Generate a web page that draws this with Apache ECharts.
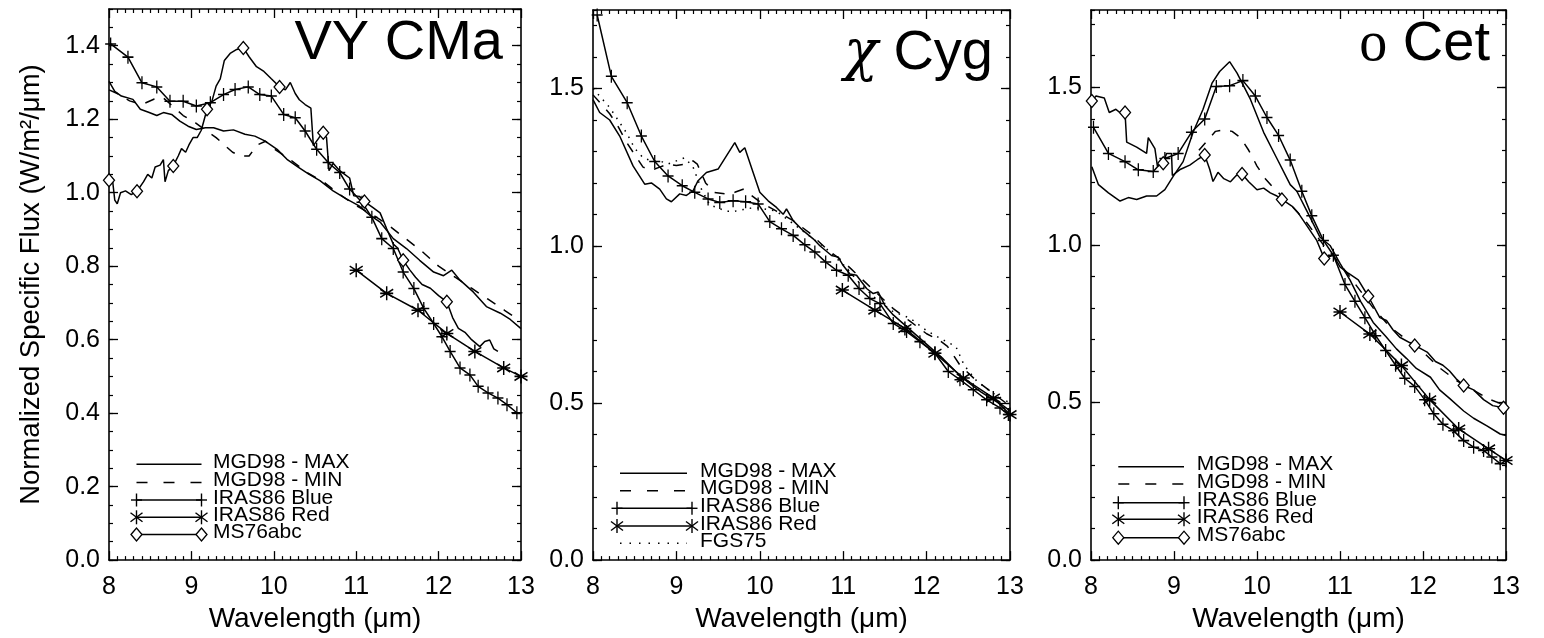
<!DOCTYPE html>
<html>
<head>
<meta charset="utf-8">
<script src="https://cdn.jsdelivr.net/npm/echarts@6/dist/echarts.min.js"></script>
<style>
  html, body { margin: 0; padding: 0; background: #fff; }
  #chart { width: 1544px; height: 638px; }
</style>
</head>
<body>
<div id="chart"></div>
<script>
// ---- data: [wavelength um, normalized flux] ----
// third value 1 = draw a diamond at this point (MS76abc)

// VY CMa
const vyMax = [[8.0,1.303],[8.07,1.276],[8.15,1.263],[8.29,1.254],[8.38,1.227],[8.48,1.219],[8.58,1.21],[8.66,1.218],[8.76,1.213],[8.86,1.195],[8.96,1.181],[9.06,1.172],[9.17,1.177],[9.27,1.177],[9.39,1.168],[9.51,1.171],[9.65,1.159],[9.77,1.154],[9.89,1.141],[10.04,1.118],[10.16,1.091],[10.3,1.069],[10.42,1.051],[10.56,1.033],[10.72,1.005],[10.88,0.983],[11.03,0.965],[11.17,0.938],[11.29,0.92],[11.45,0.875],[11.61,0.848],[11.77,0.816],[11.94,0.784],[12.06,0.774],[12.16,0.789],[12.26,0.762],[12.42,0.73],[12.58,0.69],[12.75,0.672],[12.87,0.655],[13.0,0.63]];
const vyMin = [[8.0,1.28],[8.1,1.27],[8.25,1.25],[8.4,1.24],[8.55,1.255],[8.65,1.26],[8.75,1.24],[8.9,1.21],[9.05,1.19],[9.2,1.165],[9.3,1.15],[9.4,1.13],[9.5,1.11],[9.6,1.1],[9.7,1.1],[9.8,1.13],[9.9,1.14],[10.0,1.12],[10.2,1.09],[10.4,1.055],[10.6,1.03],[10.8,0.995],[11.0,0.965],[11.2,0.94],[11.4,0.91],[11.6,0.875],[11.8,0.84],[12.0,0.8],[12.2,0.77],[12.4,0.74],[12.6,0.71],[12.8,0.68],[13.0,0.65]];
const vyBlue = [[8.02,1.405],[8.23,1.369],[8.4,1.299],[8.58,1.288],[8.74,1.249],[8.9,1.249],[9.06,1.236],[9.23,1.245],[9.39,1.267],[9.53,1.281],[9.69,1.288],[9.83,1.267],[9.97,1.263],[10.12,1.213],[10.26,1.204],[10.38,1.168],[10.52,1.118],[10.66,1.082],[10.8,1.055],[10.92,1.01],[11.07,0.974],[11.19,0.933],[11.31,0.875],[11.45,0.848],[11.57,0.784],[11.7,0.739],[11.82,0.685],[11.94,0.644],[12.04,0.608],[12.14,0.568],[12.26,0.523],[12.38,0.504],[12.48,0.473],[12.6,0.455],[12.72,0.441],[12.83,0.423],[12.95,0.401]];
const vyRed = [[11.0,0.789],[11.37,0.726],[11.75,0.68],[12.1,0.617],[12.44,0.568],[12.79,0.523],[13.0,0.5]];
const vyMs = [[8.0,1.034,1],[8.04,1.04],[8.07,0.98],[8.1,0.97],[8.14,1.0],[8.2,1.005],[8.27,0.995],[8.34,1.004,1],[8.42,1.03],[8.47,1.05],[8.52,1.04],[8.56,1.07],[8.62,1.075],[8.66,1.09],[8.68,1.03],[8.72,1.06],[8.78,1.073,1],[8.84,1.1],[8.88,1.12],[8.93,1.11],[8.97,1.13],[9.02,1.15],[9.07,1.15],[9.12,1.17],[9.19,1.227,1],[9.25,1.25],[9.3,1.29],[9.35,1.31],[9.4,1.36],[9.47,1.379],[9.55,1.39],[9.63,1.394,1],[9.7,1.37],[9.79,1.343],[9.88,1.33],[9.97,1.31],[10.07,1.288,1],[10.14,1.28],[10.2,1.3],[10.26,1.27],[10.31,1.253],[10.38,1.24],[10.45,1.23],[10.48,1.128],[10.55,1.15],[10.6,1.163,1],[10.64,1.15],[10.67,1.06],[10.72,1.08],[10.8,1.06],[10.86,1.05],[10.92,1.04],[10.97,0.992],[11.04,0.99],[11.1,0.976,1],[11.2,0.96],[11.29,0.945],[11.37,0.902],[11.45,0.86],[11.5,0.85],[11.57,0.816,1],[11.65,0.79],[11.72,0.77],[11.8,0.75],[11.9,0.74],[12.0,0.72],[12.1,0.703,1],[12.17,0.66],[12.24,0.631],[12.32,0.62],[12.4,0.6],[12.5,0.581],[12.56,0.595],[12.62,0.599],[12.67,0.575],[12.72,0.568]];

// chi Cyg
const chiMax = [[8.0,1.465],[8.08,1.424],[8.2,1.4],[8.32,1.349],[8.48,1.254],[8.62,1.196],[8.7,1.2],[8.8,1.18],[8.88,1.149],[8.94,1.14],[9.04,1.165],[9.12,1.16],[9.2,1.175],[9.26,1.207],[9.36,1.233],[9.5,1.244],[9.6,1.286],[9.7,1.328],[9.76,1.297],[9.82,1.312],[9.92,1.233],[10.0,1.17],[10.1,1.143],[10.2,1.122],[10.28,1.1],[10.32,1.117],[10.4,1.08],[10.52,1.048],[10.64,1.022],[10.72,1.0],[10.86,0.969],[10.94,0.964],[11.0,0.937],[11.08,0.91],[11.16,0.906],[11.28,0.864],[11.36,0.848],[11.42,0.853],[11.5,0.81],[11.6,0.78],[11.75,0.745],[11.9,0.71],[12.05,0.675],[12.2,0.64],[12.35,0.6],[12.5,0.565],[12.65,0.535],[12.8,0.51],[12.9,0.495],[13.0,0.475]];
const chiMin = [[8.0,1.48],[8.1,1.45],[8.2,1.42],[8.3,1.38],[8.4,1.33],[8.5,1.29],[8.6,1.25],[8.7,1.24],[8.8,1.25],[8.9,1.26],[9.0,1.255],[9.1,1.26],[9.2,1.27],[9.25,1.26],[9.35,1.2],[9.45,1.17],[9.6,1.165],[9.7,1.17],[9.8,1.18],[9.9,1.16],[10.0,1.14],[10.2,1.11],[10.4,1.08],[10.6,1.04],[10.8,0.99],[11.0,0.95],[11.2,0.9],[11.4,0.85],[11.6,0.8],[11.8,0.76],[12.0,0.72],[12.15,0.7],[12.25,0.68],[12.4,0.62],[12.6,0.57],[12.8,0.53],[13.0,0.49]];
const chiBlue = [[8.05,1.734],[8.22,1.539],[8.41,1.455],[8.58,1.349],[8.74,1.268],[8.9,1.222],[9.07,1.191],[9.22,1.17],[9.38,1.149],[9.52,1.138],[9.68,1.143],[9.83,1.14],[9.98,1.133],[10.12,1.077],[10.26,1.054],[10.4,1.033],[10.54,1.003],[10.66,0.98],[10.79,0.948],[10.92,0.922],[11.06,0.906],[11.19,0.864],[11.32,0.832],[11.44,0.816],[11.6,0.753],[11.76,0.727],[11.92,0.695],[12.1,0.658],[12.26,0.6],[12.4,0.574],[12.56,0.542],[12.72,0.51],[12.88,0.484],[12.98,0.463]];
const chiRed = [[10.99,0.859],[11.38,0.795],[11.74,0.737],[12.1,0.658],[12.44,0.579],[12.8,0.516],[13.0,0.463]];
const chiFgs = [[8.0,1.5],[8.1,1.47],[8.2,1.44],[8.3,1.4],[8.4,1.36],[8.5,1.31],[8.6,1.28],[8.7,1.27],[8.8,1.27],[8.9,1.26],[9.0,1.27],[9.1,1.28],[9.2,1.25],[9.3,1.18],[9.4,1.13],[9.5,1.12],[9.6,1.11],[9.7,1.11],[9.8,1.115],[9.9,1.12],[10.0,1.12],[10.2,1.11],[10.4,1.07],[10.6,1.03],[10.8,0.99],[11.0,0.94],[11.2,0.88],[11.4,0.83],[11.6,0.79],[11.8,0.77],[12.0,0.73],[12.2,0.7],[12.35,0.68],[12.45,0.62],[12.6,0.57],[12.8,0.53],[13.0,0.5]];

// o Cet
const ocMax = [[8.01,1.248],[8.09,1.191],[8.21,1.165],[8.35,1.139],[8.45,1.15],[8.55,1.144],[8.67,1.155],[8.79,1.155],[8.89,1.175],[8.99,1.217],[9.11,1.264],[9.23,1.357],[9.35,1.43],[9.46,1.514],[9.55,1.55],[9.67,1.581],[9.76,1.545],[9.92,1.462],[10.08,1.357],[10.24,1.274],[10.4,1.191],[10.48,1.17],[10.6,1.108],[10.76,1.024],[10.88,0.998],[11.0,0.941],[11.12,0.889],[11.25,0.82],[11.4,0.754],[11.55,0.71],[11.68,0.67],[11.8,0.64],[11.92,0.608],[12.09,0.58],[12.2,0.54],[12.32,0.513],[12.49,0.473],[12.61,0.45],[12.77,0.426],[12.93,0.4],[13.0,0.395]];
const ocMin = [[9.3,1.3],[9.4,1.33],[9.5,1.36],[9.6,1.365],[9.7,1.36],[9.8,1.34],[9.9,1.3],[10.0,1.25],[10.1,1.21],[10.2,1.18],[10.4,1.13],[10.6,1.07],[10.8,1.0],[11.0,0.94],[11.2,0.87],[11.4,0.8],[11.6,0.74],[11.8,0.7],[12.0,0.66],[12.2,0.61],[12.4,0.57],[12.6,0.54],[12.8,0.51],[13.0,0.49]];
const ocBlue = [[8.03,1.373],[8.21,1.29],[8.41,1.264],[8.57,1.238],[8.75,1.233],[8.89,1.274],[9.05,1.29],[9.21,1.357],[9.37,1.399],[9.51,1.502],[9.67,1.505],[9.83,1.521],[9.98,1.472],[10.12,1.404],[10.26,1.347],[10.4,1.269],[10.54,1.17],[10.66,1.092],[10.8,1.014],[10.92,0.967],[11.06,0.874],[11.18,0.821],[11.3,0.769],[11.43,0.712],[11.55,0.665],[11.67,0.618],[11.78,0.577],[11.9,0.551],[12.02,0.509],[12.13,0.464],[12.24,0.431],[12.37,0.41],[12.49,0.379],[12.61,0.358],[12.73,0.348],[12.83,0.327],[12.93,0.306]];
const ocRed = [[11.0,0.787],[11.36,0.717],[11.74,0.617],[12.08,0.509],[12.43,0.416],[12.79,0.353],[13.0,0.316]];
const ocMs = [[8.01,1.456,1],[8.06,1.472],[8.16,1.466],[8.22,1.42],[8.3,1.43],[8.37,1.415],[8.41,1.42,1],[8.43,1.326],[8.55,1.31],[8.67,1.29],[8.69,1.34],[8.77,1.305],[8.8,1.25],[8.87,1.259,1],[8.91,1.29],[8.97,1.29],[8.98,1.22],[9.08,1.24],[9.19,1.253],[9.28,1.27],[9.37,1.285,1],[9.43,1.24],[9.47,1.201],[9.53,1.23],[9.6,1.21],[9.68,1.2],[9.75,1.22],[9.82,1.225,1],[9.9,1.2],[10.0,1.175],[10.08,1.18],[10.16,1.165],[10.24,1.155],[10.3,1.144,1],[10.42,1.123],[10.5,1.1],[10.6,1.061],[10.72,1.014],[10.81,0.957,1],[10.92,0.967],[11.0,0.93],[11.1,0.91],[11.22,0.889],[11.34,0.837,1],[11.48,0.769],[11.56,0.76],[11.64,0.73],[11.72,0.707],[11.9,0.681,1],[12.05,0.66],[12.15,0.63],[12.24,0.618],[12.32,0.6],[12.4,0.575],[12.49,0.554,1],[12.61,0.54],[12.73,0.509],[12.84,0.49],[12.97,0.483,1]];

const xTicks = [8, 9, 10, 11, 12, 13];
const stars = ['VY CMa', '{g|χ} Cyg', '{o|ο} Cet'];
const yMaxes = [1.5, 1.75, 1.745];
const yMajor = [0.2, 0.5, 0.5];
const yMinor = [0.05, 0.1, 0.1];

// ---- layout ----
const FONT = '"Liberation Sans", Arial, Helvetica, sans-serif';
const grids = [
  { left: 109, top: 9, width: 412, height: 554 },
  { left: 593, top: 10, width: 417, height: 553 },
  { left: 1091, top: 10, width: 415, height: 558 }
];

const PLUS = 'path://M0,6L10,6M5,0L5,12';
const STAR = 'path://M5,0L5,12M0,2.5L10,9.5M0,9.5L10,2.5M0,6L10,6';
const black = '#000';

let xAxes = [], yAxes = [];
grids.forEach((g, i) => {
  const tick = { inside: true, length: 9, lineStyle: { color: black, width: 1.3 } };
  const minor = { show: true, splitNumber: 10, length: 4, lineStyle: { color: black, width: 1.2 } };
  const line = { onZero: false, lineStyle: { color: black, width: 1.6 } };
  xAxes.push({
    type: 'value', gridIndex: i, position: 'bottom', min: xTicks[0], max: xTicks[xTicks.length - 1], interval: 1,
    axisLine: line, axisTick: tick, minorTick: minor, splitLine: { show: false },
    axisLabel: { color: black, fontSize: 25, fontFamily: FONT, margin: 15 },
    name: 'Wavelength (μm)', nameLocation: 'middle', nameGap: 43,
    nameTextStyle: { color: black, fontSize: 28, fontFamily: FONT }
  });
  xAxes.push({
    type: 'value', gridIndex: i, position: 'top', min: 8, max: 13, interval: 1,
    axisLine: line, axisTick: tick, minorTick: minor, splitLine: { show: false },
    axisLabel: { show: false }
  });
  const ybase = { type: 'value', gridIndex: i, min: 0, max: yMaxes[i], splitLine: { show: false } };
  yAxes.push(Object.assign({}, ybase, {
    position: 'left', interval: yMajor[i], axisLine: line, axisTick: tick,
    axisLabel: { color: black, fontSize: 25, fontFamily: FONT, margin: 9, showMaxLabel: false,
      formatter: v => v.toFixed(1) },
    name: i === 0 ? 'Normalized Specific Flux (W/m²/μm)' : '', nameLocation: 'middle', nameGap: 64,
    nameTextStyle: { color: black, fontSize: 27.5, fontFamily: FONT }
  }));
  yAxes.push(Object.assign({}, ybase, {
    position: 'left', interval: yMinor[i], axisLine: { show: false },
    axisTick: { inside: true, length: 4, lineStyle: { color: black, width: 1.2 } }, axisLabel: { show: false }
  }));
  yAxes.push(Object.assign({}, ybase, {
    position: 'right', interval: yMajor[i], axisLine: line, axisTick: tick, axisLabel: { show: false }
  }));
  yAxes.push(Object.assign({}, ybase, {
    position: 'right', interval: yMinor[i], axisLine: { show: false },
    axisTick: { inside: true, length: 4, lineStyle: { color: black, width: 1.2 } }, axisLabel: { show: false }
  }));
});

function lineSeries(panel, data, kind) {
  const s = {
    type: 'line', xAxisIndex: panel * 2, yAxisIndex: panel * 4, data: data,
    symbol: 'none', showAllSymbol: true, animation: false, silent: true,
    lineStyle: { color: black, width: 1.5 }
  };
  if (kind === 'dashed') s.lineStyle.type = [10, 10];
  if (kind === 'dotted') s.lineStyle.type = [1.5, 6];
  if (kind === 'plus') {
    s.symbol = PLUS; s.symbolSize = [11, 13];
    s.itemStyle = { color: black, borderColor: black, borderWidth: 1.4 };
  }
  if (kind === 'star') {
    s.symbol = STAR; s.symbolSize = [13, 14];
    s.itemStyle = { color: black, borderColor: black, borderWidth: 1.5 };
  }
  if (kind === 'diamond') {
    s.symbol = 'diamond'; s.symbolSize = [11, 13];
    s.itemStyle = { color: '#fff', borderColor: black, borderWidth: 1.3 };
    s.data = data.map(d => d[2] ? [d[0], d[1]] : { value: [d[0], d[1]], symbol: 'none' });
    s.z = 3;
  }
  return s;
}

const series = [
  lineSeries(0, vyMax, 'solid'), lineSeries(0, vyMin, 'dashed'), lineSeries(0, vyBlue, 'plus'),
  lineSeries(0, vyRed, 'star'), lineSeries(0, vyMs, 'diamond'),
  lineSeries(1, chiMax, 'solid'), lineSeries(1, chiMin, 'dashed'), lineSeries(1, chiBlue, 'plus'),
  lineSeries(1, chiRed, 'star'), lineSeries(1, chiFgs, 'dotted'),
  lineSeries(2, ocMax, 'solid'), lineSeries(2, ocMin, 'dashed'), lineSeries(2, ocBlue, 'plus'),
  lineSeries(2, ocRed, 'star'), lineSeries(2, ocMs, 'diamond')
];

// ---- in-plot legends (drawn as graphics, IDL style) ----
function marker(kind, cx, cy) {
  const st = { stroke: black, lineWidth: 1.4 };
  if (kind === 'plus') return [
    { type: 'line', shape: { x1: cx - 5.5, y1: cy, x2: cx + 5.5, y2: cy }, style: st },
    { type: 'line', shape: { x1: cx, y1: cy - 6.5, x2: cx, y2: cy + 6.5 }, style: st }];
  if (kind === 'star') return [
    { type: 'line', shape: { x1: cx, y1: cy - 7, x2: cx, y2: cy + 7 }, style: st },
    { type: 'line', shape: { x1: cx - 6, y1: cy - 4.5, x2: cx + 6, y2: cy + 4.5 }, style: st },
    { type: 'line', shape: { x1: cx - 6, y1: cy + 4.5, x2: cx + 6, y2: cy - 4.5 }, style: st }];
  if (kind === 'diamond') return [
    { type: 'polygon', z: 10, shape: { points: [[cx - 5.5, cy], [cx, cy - 6.5], [cx + 5.5, cy], [cx, cy + 6.5]] },
      style: { fill: '#fff', stroke: black, lineWidth: 1.3 } }];
  return [];
}
function legend(lx1, lx2, mx1, mx2, tx, rows) {
  let els = [];
  rows.forEach(r => {
    const st = { stroke: black, lineWidth: 1.4 };
    if (r.kind === 'dashed') st.lineDash = [11, 16];
    if (r.kind === 'dotted') st.lineDash = [1.5, 8];
    const ends = ['plus', 'star', 'diamond'].includes(r.kind);
    els.push({ type: 'line', shape: { x1: ends ? mx1 : lx1, y1: r.y, x2: ends ? mx2 : lx2, y2: r.y }, style: st });
    els = els.concat(marker(r.kind, mx1, r.y), marker(r.kind, mx2, r.y));
    els.push({ type: 'text', style: { text: r.label, x: tx, y: r.y - 2, fill: black,
      fontSize: 21, fontFamily: FONT, verticalAlign: 'middle' } });
  });
  return els;
}
const graphic = [].concat(
  legend(136.5, 201.5, 136.5, 201.5, 213, [
    { y: 464.3, kind: 'solid', label: 'MGD98 - MAX' }, { y: 482.5, kind: 'dashed', label: 'MGD98 - MIN' },
    { y: 500, kind: 'plus', label: 'IRAS86 Blue' }, { y: 517.3, kind: 'star', label: 'IRAS86 Red' },
    { y: 534.5, kind: 'diamond', label: 'MS76abc' }]),
  legend(620, 687, 617, 692, 700, [
    { y: 473.3, kind: 'solid', label: 'MGD98 - MAX' }, { y: 490.7, kind: 'dashed', label: 'MGD98 - MIN' },
    { y: 508.3, kind: 'plus', label: 'IRAS86 Blue' }, { y: 526, kind: 'star', label: 'IRAS86 Red' },
    { y: 543.3, kind: 'dotted', label: 'FGS75' }]),
  legend(1118.3, 1184, 1118.3, 1184, 1196.7, [
    { y: 466.7, kind: 'solid', label: 'MGD98 - MAX' }, { y: 484, kind: 'dashed', label: 'MGD98 - MIN' },
    { y: 502.7, kind: 'plus', label: 'IRAS86 Blue' }, { y: 519.3, kind: 'star', label: 'IRAS86 Red' },
    { y: 537.7, kind: 'diamond', label: 'MS76abc' }])
);

const titleRight = [1041, 551, 54];
const titleTop = [16, 26, 17];
const titles = stars.map((t, i) => ({
  text: t, right: titleRight[i], top: titleTop[i], padding: 0,
  textStyle: { color: black, fontSize: 56, fontWeight: 'normal', fontFamily: FONT,
    rich: {
      g: { fontSize: 56, fontFamily: '"DejaVu Serif", serif', fontStyle: 'italic', color: black },
      o: { fontSize: 56, fontFamily: '"Liberation Serif", serif', color: black }
    } }
}));

const chart = echarts.init(document.getElementById('chart'), null, { renderer: 'canvas' });
chart.setOption({
  backgroundColor: '#fff',
  animation: false,
  title: titles,
  grid: grids,
  xAxis: xAxes,
  yAxis: yAxes,
  series: series,
  graphic: graphic
});
</script>
</body>
</html>
